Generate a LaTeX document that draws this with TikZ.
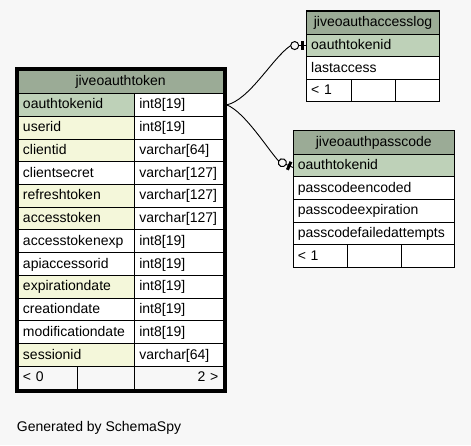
\documentclass[tikz,border=0pt]{standalone}
\usepackage{fontspec}
\setmainfont{Liberation Sans}
\usetikzlibrary{calc}
\definecolor{hdr}{HTML}{9BAB96}
\definecolor{pkc}{HTML}{BED1B8}
\definecolor{idx}{HTML}{F4F7DA}
\definecolor{bgc}{HTML}{F7F7F7}
\newcommand\tabfont{\fontsize{14}{16}\selectfont}
\begin{document}
\begin{tikzpicture}[x=1pt,y=-1pt,
  cell/.style={draw=black, line width=0.9pt, anchor=north west, inner xsep=5pt,
    inner ysep=0pt, outer sep=0pt, text height=11pt, text depth=3pt,
    font=\tabfont, align=left},
  scell/.style={cell, inner xsep=4.5pt},
  mainrow/.style={cell, minimum height=22.74pt},
  logrow/.style={scell, minimum height=22.5pt},
  pasrow/.style={scell, minimum height=22.6pt},
  edge/.style={draw=black, line width=0.9pt},
  ring/.style={draw=black, line width=1pt, fill=bgc},
  tee/.style={draw=black, line width=3pt}]
\useasboundingbox (0,0) rectangle (471,445);
\fill[bgc] (0,0) rectangle (471,445);

% ---- jiveoauthtoken ----
\node[cell, minimum height=23.5pt, fill=hdr, text width=195.3pt, align=center] (tokH) at (18,70) {jiveoauthtoken};
\foreach [count=\i] \n/\t/\f in {oauthtokenid/int8[19]/pkc, userid/int8[19]/idx,
  clientid/varchar[64]/idx, clientsecret/varchar[127]/white,
  refreshtoken/varchar[127]/idx, accesstoken/varchar[127]/idx,
  accesstokenexp/int8[19]/white, apiaccessorid/int8[19]/white,
  expirationdate/int8[19]/idx, creationdate/int8[19]/white,
  modificationdate/int8[19]/white, sessionid/varchar[64]/idx}{
  \pgfmathsetmacro\yy{93.5+(\i-1)*22.74}
  \node[mainrow, fill=\f, text width=106.3pt] (tokA\i) at (18,\yy) {\n};
  \node[mainrow, fill=white, text width=79pt] (tokB\i) at (134.3,\yy) {\t};
}
\node[mainrow, text width=49pt] (tokF1) at (18,366.4) {< 0};
\node[mainrow, text width=47.3pt] (tokF2) at (77,366.4) {};
\node[mainrow, text width=79pt, align=right] (tokF3) at (134.3,366.4) {2 >};
\draw[line width=3.4pt] ($(tokH.north west)+(-1.7,-1.7)$) rectangle ($(tokF3.south east)+(1.7,1.7)$);

% ---- jiveoauthaccesslog ----
\node[scell, minimum height=23.3pt, fill=hdr, text width=123.6pt, align=center] (logH) at (306.7,11) {jiveoauthaccesslog};
\node[logrow, fill=pkc, text width=123.6pt] (logA1) at (306.7,34.3) {oauthtokenid};
\node[logrow, fill=white, text width=123.6pt] (logA2) at (306.7,56.8) {lastaccess};
\node[logrow, fill=white, text width=36pt] (logF1) at (306.7,79.3) {< 1};
\node[logrow, fill=white, text width=35pt] (logF2) at (351.7,79.3) {};
\node[logrow, fill=white, text width=34.6pt] (logF3) at (395.7,79.3) {};
\draw[line width=1.3pt] (logH.north west) rectangle (logF3.south east);

% ---- jiveoauthpasscode ----
\node[scell, minimum height=23.6pt, fill=hdr, text width=152pt, align=center] (pasH) at (293.3,130.7) {jiveoauthpasscode};
\node[pasrow, fill=pkc, text width=152pt] (pasA1) at (293.3,154.3) {oauthtokenid};
\node[pasrow, fill=white, text width=152pt] (pasA2) at (293.3,176.9) {passcodeencoded};
\node[pasrow, fill=white, text width=152pt] (pasA3) at (293.3,199.5) {passcodeexpiration};
\node[pasrow, fill=white, text width=152pt] (pasA4) at (293.3,222.1) {passcodefailedattempts};
\node[pasrow, fill=white, text width=45.4pt] (pasF1) at (293.3,244.7) {< 1};
\node[pasrow, fill=white, text width=44.6pt] (pasF2) at (347.7,244.7) {};
\node[pasrow, fill=white, text width=44pt] (pasF3) at (401.3,244.7) {};
\draw[line width=1.3pt] (pasH.north west) rectangle (pasF3.south east);

% ---- connectors ----
\coordinate (src) at ($(tokB1.east)+(3.4,0)$);
\begin{scope}[shift={(logA1.west)}]
  \coordinate (e1) at (-16,0);
  \coordinate (t1) at (0,0);
  \draw[edge] (-8.2,0) -- (t1);
  \draw[ring] (-12,0) circle[radius=4pt];
  \draw[tee] (-4,-4.2) -- (-4,4.2);
\end{scope}
\begin{scope}[shift={($(pasA1.west)+(0,2)$)}, rotate=-24]
  \coordinate (e2) at (-16,0);
  \coordinate (t2) at (0,0);
  \draw[edge] (-8.2,0) -- (t2);
  \draw[ring] (-12,0) circle[radius=4pt];
  \draw[tee] (-4.5,-4.4) -- (-4.5,4.4);
\end{scope}
\draw[edge] (src) .. controls ($(src)+(23,-5)$) and ($(e1)+(-18,12)$) .. (e1);
\draw[edge] (src) .. controls ($(src)+(18,7)$) and ($(e2)+(-11,-12)$) .. (e2);

\node[anchor=base west, font=\tabfont, inner sep=0pt] (gen) at (16.7,431.5) {Generated by SchemaSpy};
\end{tikzpicture}
\end{document}
